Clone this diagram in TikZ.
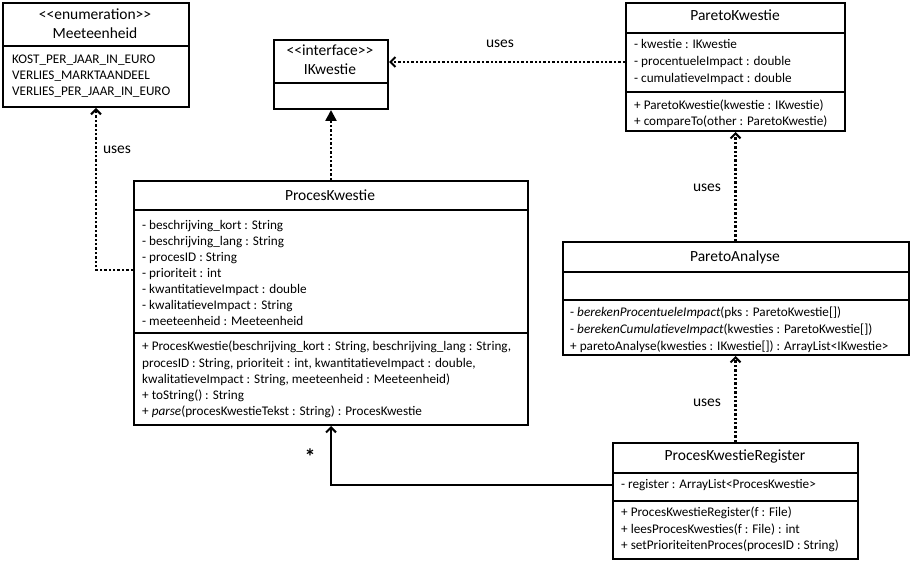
\documentclass[tikz,border=0pt]{standalone}
\usepackage{fontspec}
\setmainfont{Carlito}
\usetikzlibrary{arrows.meta}
\newcommand{\sterL}{<\kern0pt<}
\newcommand{\sterR}{>\kern0pt>}
\begin{document}
\begin{tikzpicture}[x=1pt,y=-1pt,
  boxframe/.style={draw, line width=2pt, inner sep=0pt, anchor=north west},
  sepline/.style={line width=1.6pt},
  hd/.style={inner sep=0pt, font=\fontsize{15.5}{18}\selectfont, text height=11pt, text depth=3.5pt},
  ln/.style={inner sep=0pt, anchor=west, font=\fontsize{13.2}{15}\selectfont, text height=9.5pt, text depth=3pt},
  lbl/.style={inner sep=0pt, font=\fontsize{15.5}{18}\selectfont},
  dep/.style={line width=2.4pt, dash pattern=on 2.4pt off 2pt, -{Straight Barb[length=5pt,width=10pt,line width=2pt]}},
  real/.style={line width=2.4pt, dash pattern=on 2.4pt off 2pt, -{Triangle[length=11pt,width=11pt]}},
  assoc/.style={line width=2pt, -{Straight Barb[length=5pt,width=10pt,line width=2pt]}}
]
\useasboundingbox (0,0) rectangle (910,561);

% Meeteenheid
\node[boxframe, minimum width=186pt, minimum height=104pt] (meet) at (2,2) {};
\draw[sepline] (meet.west |- 0,46) -- (meet.east |- 0,46);
\node[hd] (meetS) at (95,16) {\sterL enumeration\sterR};
\node[hd] (meetN) at (95,35) {Meeteenheid};
\node[ln] (meet1) at (12,60) {KOST\_PER\_JAAR\_IN\_EURO};
\node[ln] (meet2) at (12,76) {VERLIES\_MARKTAANDEEL};
\node[ln] (meet3) at (12,92) {VERLIES\_PER\_JAAR\_IN\_EURO};

% IKwestie
\node[boxframe, minimum width=114pt, minimum height=69pt] (ik) at (273,39) {};
\draw[sepline] (ik.west |- 0,83) -- (ik.east |- 0,83);
\node[hd] (ikS) at (330,52) {\sterL interface\sterR};
\node[hd] (ikN) at (330,71) {IKwestie};

% ParetoKwestie
\node[boxframe, minimum width=219pt, minimum height=128pt] (pkw) at (625,2) {};
\draw[sepline] (pkw.west |- 0,33) -- (pkw.east |- 0,33);
\draw[sepline] (pkw.west |- 0,92) -- (pkw.east |- 0,92);
\node[hd] (pkwN) at (735,17) {ParetoKwestie};
\node[ln] (pkw1) at (634,45) {- kwestie : IKwestie};
\node[ln] (pkw2) at (634,62) {- procentueleImpact : double};
\node[ln] (pkw3) at (634,79) {- cumulatieveImpact : double};
\node[ln] (pkw4) at (634,106) {+ ParetoKwestie(kwestie~: IKwestie)};
\node[ln] (pkw5) at (634,122) {+ compareTo(other~: ParetoKwestie)};

% ProcesKwestie
\node[boxframe, minimum width=394pt, minimum height=244pt] (pk) at (133,180) {};
\draw[sepline] (pk.west |- 0,210) -- (pk.east |- 0,210);
\draw[sepline] (pk.west |- 0,333) -- (pk.east |- 0,333);
\node[hd] (pkN) at (330,197) {ProcesKwestie};
\node[ln] (pk1) at (142,226) {- beschrijving\_kort : String};
\node[ln] (pk2) at (142,242) {- beschrijving\_lang : String};
\node[ln] (pk3) at (142,258) {- procesID : String};
\node[ln] (pk4) at (142,274) {- prioriteit : int};
\node[ln] (pk5) at (142,290) {- kwantitatieveImpact : double};
\node[ln] (pk6) at (142,306) {- kwalitatieveImpact : String};
\node[ln] (pk7) at (142,322) {- meeteenheid : Meeteenheid};
\node[ln] (pk8) at (142,347) {+ ProcesKwestie(beschrijving\_kort : String, beschrijving\_lang : String,};
\node[ln] (pk9) at (142,364) {procesID : String, prioriteit : int, kwantitatieveImpact : double,};
\node[ln] (pk10) at (142,380) {kwalitatieveImpact : String, meeteenheid~: Meeteenheid)};
\node[ln] (pk11) at (142,396) {+ toString() : String};
\node[ln] (pk12) at (142,412) {+ \textit{parse}(procesKwestieTekst : String) : ProcesKwestie};

% ParetoAnalyse
\node[boxframe, minimum width=346pt, minimum height=113pt] (pa) at (562,241) {};
\draw[sepline] (pa.west |- 0,272) -- (pa.east |- 0,272);
\draw[sepline] (pa.west |- 0,300) -- (pa.east |- 0,300);
\node[hd] (paN) at (735,258) {ParetoAnalyse};
\node[ln] (pa1) at (570,313) {- \textit{berekenProcentueleImpact}(pks : ParetoKwestie[])};
\node[ln] (pa2) at (570,330) {- \textit{berekenCumulatieveImpact}(kwesties : ParetoKwestie[])};
\node[ln] (pa3) at (570,347) {+ paretoAnalyse(kwesties : IKwestie[])~: ArrayList<IKwestie>};

% ProcesKwestieRegister
\node[boxframe, minimum width=245pt, minimum height=116pt] (reg) at (612,442) {};
\draw[sepline] (reg.west |- 0,473) -- (reg.east |- 0,473);
\draw[sepline] (reg.west |- 0,501) -- (reg.east |- 0,501);
\node[hd] (regN) at (735,457) {ProcesKwestieRegister};
\node[ln] (reg1) at (621,485) {- register : ArrayList<ProcesKwestie>};
\node[ln] (reg2) at (621,513) {+ ProcesKwestieRegister(f~: File)};
\node[ln] (reg3) at (621,530) {+ leesProcesKwesties(f~: File) : int};
\node[ln] (reg4) at (621,546) {+ setPrioriteitenProces(procesID : String)};

% connectors
\draw[real] (pk.north -| ik.south) -- (ik.south);
\draw[dep] (pk.west |- 0,270) -| (meet.south);
\draw[dep] (pkw.west |- 0,62) -- (ik.east |- 0,62);
\draw[dep] (pa.north -| pkw.south) -- (pkw.south);
\draw[dep] (reg.north) -- (reg.north |- pa.south);
\draw[assoc] (reg.west |- 0,485) -| (pk.south);

% labels
\node[lbl] (u1) at (117,150) {uses};
\node[lbl] (u2) at (500,44) {uses};
\node[lbl] (u3) at (707,188) {uses};
\node[lbl] (u4) at (707,403) {uses};
\node[inner sep=0pt, font=\fontsize{22}{22}\bfseries] (star) at (310,457) {*};
\end{tikzpicture}
\end{document}
